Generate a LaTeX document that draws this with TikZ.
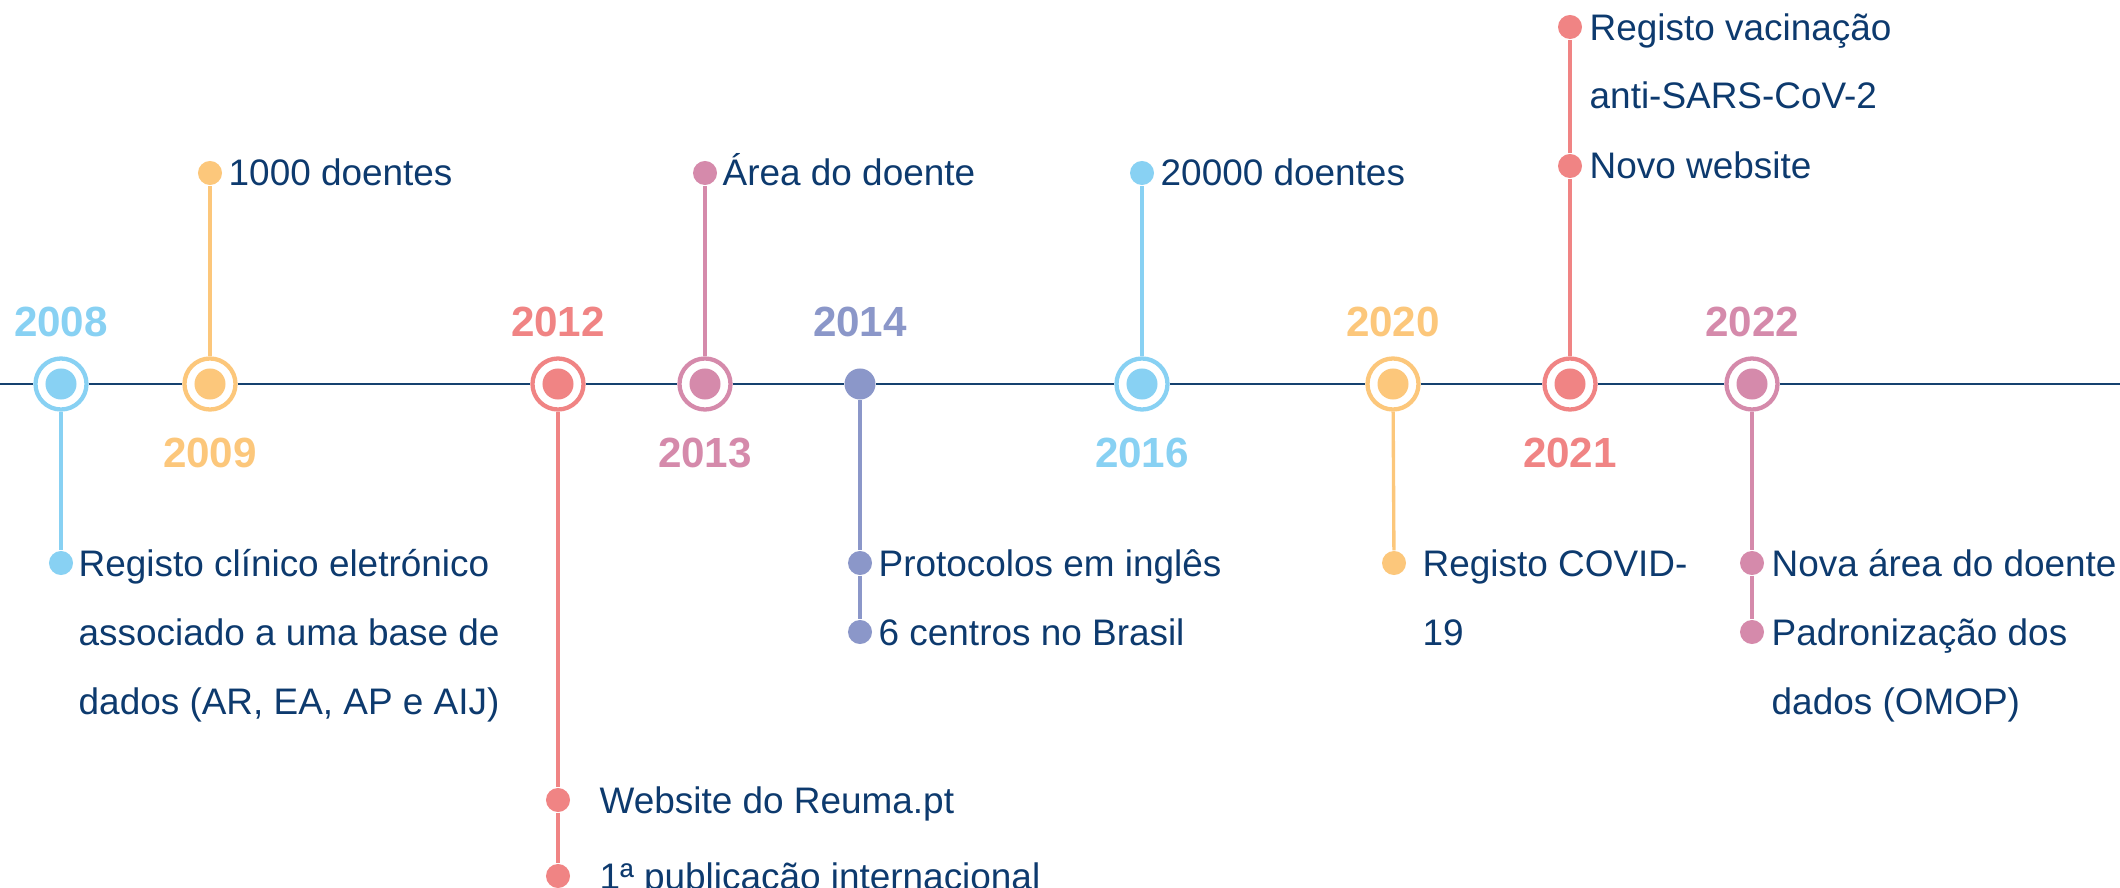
\documentclass[tikz,border=0pt]{standalone}
\usepackage{fontspec}
\setmainfont{Liberation Sans}
\usepackage{tikz}
\usetikzlibrary{positioning}
\usepackage{xcolor}

\definecolor{tlblue}{HTML}{88D1F3}
\definecolor{tlorange}{HTML}{FCC77B}
\definecolor{tlred}{HTML}{F08484}
\definecolor{tlpink}{HTML}{D58AAB}
\definecolor{tlpurple}{HTML}{8B97C9}
\definecolor{tlnavy}{HTML}{0D3A6E}
\definecolor{tlaxis}{HTML}{15416F}

\begin{document}
\begin{tikzpicture}[x=0.01cm, y=-0.01cm]
    % Define styles
    \tikzstyle{ring} = [circle, minimum size=0.51cm, inner sep=0pt, line width=1.22pt, fill=white]
    \tikzstyle{core} = [circle, minimum size=0.31cm, inner sep=0pt]
    \tikzstyle{bullet} = [circle, minimum size=0.24cm, inner sep=0pt]
    \tikzstyle{year} = [anchor=base, inner sep=0pt, font=\fontsize{12}{14}\selectfont\bfseries]
    \tikzstyle{event} = [anchor=base west, align=left, inner sep=0pt, text=tlnavy, font=\fontsize{10.5}{19.6}\selectfont]
    \tikzstyle{stem} = [line width=0.95pt]
    \tikzstyle{axis} = [line width=0.85pt, draw=tlaxis]

    \useasboundingbox (0,0) rectangle (2120,888);

    % Timeline nodes
    \coordinate (tl-start) at (0,384);
    \coordinate (tl-end) at (2120,384);
    \node (c2008) [ring, draw=tlblue] at (61,384) {};
    \node (c2009) [ring, draw=tlorange] at (210,384) {};
    \node (c2012) [ring, draw=tlred] at (558,384) {};
    \node (c2013) [ring, draw=tlpink] at (705,384) {};
    \node (c2014) [core, fill=tlpurple] at (860,384) {};
    \node (c2016) [ring, draw=tlblue] at (1142,384) {};
    \node (c2020) [ring, draw=tlorange] at (1393,384) {};
    \node (c2021) [ring, draw=tlred] at (1570,384) {};
    \node (c2022) [ring, draw=tlpink] at (1752,384) {};

    \node (i2008) [core, fill=tlblue] at (c2008) {};
    \node (i2009) [core, fill=tlorange] at (c2009) {};
    \node (i2012) [core, fill=tlred] at (c2012) {};
    \node (i2013) [core, fill=tlpink] at (c2013) {};
    \node (i2016) [core, fill=tlblue] at (c2016) {};
    \node (i2020) [core, fill=tlorange] at (c2020) {};
    \node (i2021) [core, fill=tlred] at (c2021) {};
    \node (i2022) [core, fill=tlpink] at (c2022) {};

    % Years
    \node (y2008) [year, text=tlblue] at (61,337) {2008};
    \node (y2009) [year, text=tlorange] at (210,467) {2009};
    \node (y2012) [year, text=tlred] at (558,337) {2012};
    \node (y2013) [year, text=tlpink] at (705,467) {2013};
    \node (y2014) [year, text=tlpurple] at (860,337) {2014};
    \node (y2016) [year, text=tlblue] at (1142,467) {2016};
    \node (y2020) [year, text=tlorange] at (1393,337) {2020};
    \node (y2021) [year, text=tlred] at (1570,467) {2021};
    \node (y2022) [year, text=tlpink] at (1752,337) {2022};

    % Bullets
    \node (b2008) [bullet, fill=tlblue] at (61,563) {};
    \node (b2009) [bullet, fill=tlorange] at (210,173) {};
    \node (b2012a) [bullet, fill=tlred] at (558,800) {};
    \node (b2012b) [bullet, fill=tlred] at (558,876) {};
    \node (b2013) [bullet, fill=tlpink] at (705,173) {};
    \node (b2014a) [bullet, fill=tlpurple] at (860,563) {};
    \node (b2014b) [bullet, fill=tlpurple] at (860,632) {};
    \node (b2016) [bullet, fill=tlblue] at (1142,173) {};
    \node (b2020) [bullet, fill=tlorange] at (1394,563) {};
    \node (b2021a) [bullet, fill=tlred] at (1570,27) {};
    \node (b2021b) [bullet, fill=tlred] at (1570,166) {};
    \node (b2022a) [bullet, fill=tlpink] at (1752,563) {};
    \node (b2022b) [bullet, fill=tlpink] at (1752,632) {};

    % Events (base = last line)
    \node (t2008) [event] at (78,714) {Registo clínico eletrónico\\associado a uma base de\\dados (AR, EA, AP e AIJ)};
    \node (t2009) [event] at (228,186) {1000 doentes};
    \node (t2012a) [event] at (599,813) {Website do Reuma.pt};
    \node (t2012b) [event] at (599,889) {1ª publicação internacional};
    \node (t2013) [event] at (722,186) {Área do doente};
    \node (t2014a) [event] at (878,576) {Protocolos em inglês};
    \node (t2014b) [event] at (878,645) {6 centros no Brasil};
    \node (t2016) [event] at (1160,186) {20000 doentes};
    \node (t2020) [event] at (1422,645) {Registo COVID-\\19};
    \node (t2021a) [event] at (1589,109) {Registo vacinação\\anti-SARS-CoV-2};
    \node (t2021b) [event] at (1589,179) {Novo website};
    \node (t2022a) [event] at (1771,576) {Nova área do doente};
    \node (t2022b) [event] at (1771,714) {Padronização dos\\dados (OMOP)};

    % Lines
    \draw [axis] (tl-start) -- (c2008) -- (c2009) -- (c2012) -- (c2013) -- (c2014) -- (c2016) -- (c2020) -- (c2021) -- (c2022) -- (tl-end);
    \draw [stem, draw=tlblue] (c2008) -- (b2008);
    \draw [stem, draw=tlorange] (c2009) -- (b2009);
    \draw [stem, draw=tlred] (c2012) -- (b2012a) -- (b2012b);
    \draw [stem, draw=tlpink] (c2013) -- (b2013);
    \draw [stem, draw=tlpurple] (c2014) -- (b2014a) -- (b2014b);
    \draw [stem, draw=tlblue] (c2016) -- (b2016);
    \draw [stem, draw=tlorange] (c2020) -- (b2020);
    \draw [stem, draw=tlred] (c2021) -- (b2021b) -- (b2021a);
    \draw [stem, draw=tlpink] (c2022) -- (b2022a) -- (b2022b);
\end{tikzpicture}
\end{document}
